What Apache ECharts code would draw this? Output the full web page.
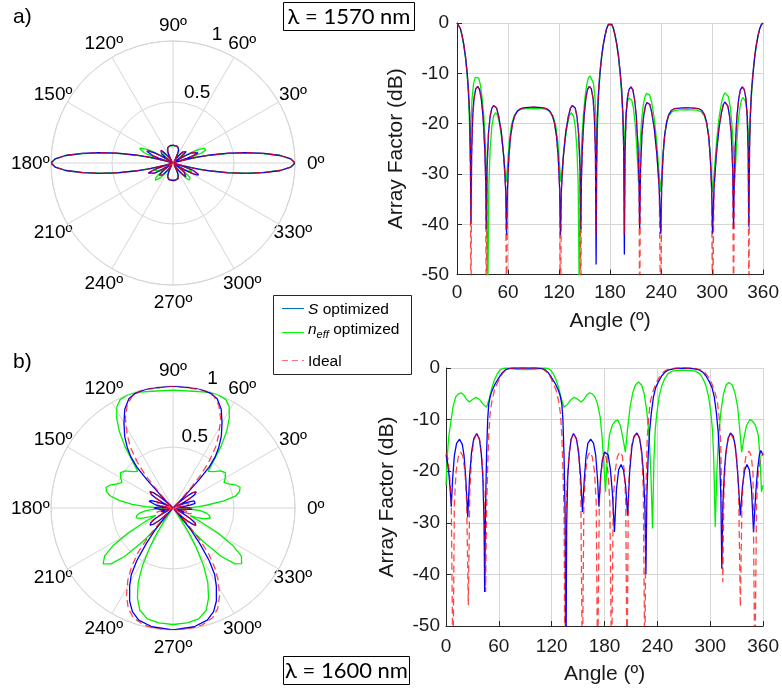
<!DOCTYPE html>
<html><head><meta charset="utf-8">
<script src="https://cdn.jsdelivr.net/npm/echarts@6/dist/echarts.min.js"></script>
<style>html,body{margin:0;padding:0;background:#fff}#c{width:782px;height:689px}</style>
</head><body><div id="c"></div>
<script>
// ---- data: [angle (deg), array factor (dB)] ----
const aBlue = [[0,0],[2,-0.3],[4,-1.1],[6,-2.5],[8,-4.3],[10,-6.7],[12,-10],[13.5,-13.4],[14.8,-18],[15.7,-25],[16.4,-40],
[17.2,-26],[18.5,-18.5],[20,-15],[22,-13.1],[24.3,-12.6],[26.5,-13.2],[28.5,-15],[30.5,-18.3],[32.5,-24.5],[33.7,-31],[34.4,-41],
[35.3,-29],[37,-22],[39,-18.5],[41,-16.9],[43,-16.4],[44.5,-16.4],[46.5,-16.9],[49,-18.5],[52,-21.5],[55,-26.5],[57.2,-33],[58.3,-42.2],
[59.3,-33],[61,-26.5],[63,-22.5],[65.5,-19.8],[68,-18.4],[71,-17.5],[75,-17],[80,-16.8],[90,-16.7],[100,-16.8],[105,-17],[109,-17.5],[112,-18.4],[114.5,-19.8],[117,-22.5],[119,-26.5],[120.7,-33],[121.7,-42.2],
[122.8,-33],[125,-26.5],[128,-21.5],[131,-18.5],[133.5,-16.9],[135.5,-16.4],[137,-16.4],[139,-16.9],[141,-18.5],[143,-22],[144.7,-29],[145.6,-41],
[146.3,-31],[147.5,-24.5],[149.5,-18.3],[151.5,-15],[153.5,-13.2],[155.7,-12.6],[158,-13.1],[160,-15],[161.5,-18.5],[162.8,-26],[163.6,-48],
[164.3,-25],[165.2,-18],[166.5,-13.4],[168,-10],[170,-6.7],[172,-4.3],[174,-2.5],[176,-1.1],[178,-0.3],[180,0],
[182,-0.3],[184,-1.1],[186,-2.5],[188,-4.3],[190,-6.7],[192,-10],[193.7,-13.4],[195,-18],[196,-25],[196.8,-46],
[197.6,-26],[198.8,-18.5],[200.3,-15],[202.3,-13.2],[204.6,-12.7],[206.8,-13.3],[208.8,-15.2],[210.8,-18.5],[212.8,-24.5],[214,-31],[214.8,-40.9],
[215.8,-29],[217.5,-22],[219.5,-18.5],[221.5,-16.5],[223.3,-15.8],[225,-15.7],[226.8,-16.2],[229,-17.8],[232,-21],[235,-26],[237.8,-33],[239.5,-41.9],
[240.6,-33],[242.2,-26.5],[244.2,-22.3],[246.6,-19.6],[249,-18.2],[252,-17.4],[256,-17],[262,-16.9],[270,-16.8],[278,-16.9],[284,-17],[288,-17.4],[291,-18.2],[293.4,-19.6],[295.8,-22.3],[297.8,-26.5],[299.4,-33],[300.5,-41.9],
[302.2,-33],[305,-26],[308,-21],[311,-17.8],[313.2,-16.2],[315,-15.7],[316.7,-15.8],[318.5,-16.5],[320.5,-18.5],[322.5,-22],[324.2,-29],[325.2,-40.9],
[326,-31],[327.2,-24.5],[329.2,-18.5],[331.2,-15.2],[333.2,-13.3],[335.4,-12.7],[337.7,-13.2],[339.7,-15],[341.2,-18.5],[342.4,-26],[343.2,-40.5],
[344,-25],[345,-18],[346.3,-13.4],[348,-10],[350,-6.7],[352,-4.3],[354,-2.5],[356,-1.1],[358,-0.3],[360,0]];

const aGreen = [[0,0],[2,-0.3],[4,-1.1],[6,-2.6],[8,-4.5],[10,-7],[12,-10.5],[13.5,-14.5],[14.7,-20],[15.6,-27.6],
[16.5,-20],[17.7,-15],[19.5,-12],[21.5,-10.8],[23.5,-10.5],[25.5,-10.9],[27.5,-12.3],[29.5,-14.8],[31.5,-18.5],[33.5,-24],[35,-32],[36.2,-55],
[37.5,-32],[39,-25],[41,-20.5],[43,-18.5],[45.4,-17.8],[47.5,-18.3],[50,-20],[53,-23.5],[56,-28.5],[57.9,-31.6],
[59.5,-28],[61.5,-23.5],[64,-20.3],[67,-18.5],[71,-17.5],[76,-17.1],[82,-17],[90,-17],[98,-17],[104,-17.1],[109,-17.5],[113,-18.5],[116,-20.3],[118.5,-23.5],[120.5,-28],[122.1,-31.6],
[124,-28.5],[127,-23.5],[130,-20],[132.5,-18.3],[134.6,-17.8],[137,-18.5],[139,-20.5],[141,-25],[142.5,-32],[143.8,-55],
[145,-32],[146.5,-24],[148.5,-18.5],[150.5,-14.8],[152.5,-12.3],[154.5,-10.9],[156.5,-10.5],[158.5,-10.8],[160.5,-12],[162.3,-15],[163.5,-20],[164.4,-27.6],
[165.3,-20],[166.5,-14.5],[168,-10.5],[170,-7],[172,-4.5],[174,-2.6],[176,-1.1],[178,-0.3],[180,0],
[182,-0.3],[184,-1.1],[186,-2.6],[188,-4.5],[190,-7],[192,-10.5],[193.7,-14.5],[195,-18.5],[196,-22],[196.8,-25.6],
[197.7,-21],[199,-17.5],[200.5,-15.6],[202,-14.9],[203.8,-14.8],[205.5,-15.3],[207.5,-17],[209.5,-20],[211.5,-25],[213.4,-31.6],
[215,-25],[217,-19.5],[219,-16.3],[221,-14.6],[222.8,-14],[224.6,-13.9],[226.5,-14.3],[229,-15.8],[232,-19],[235,-24],[237.5,-29.5],[239.8,-33.6],
[241.5,-28],[243.5,-23.3],[246,-20.3],[249,-18.5],[253,-17.6],[258,-17.3],[270,-17.2],[282,-17.3],[287,-17.6],[291,-18.5],[294,-20.3],[296.5,-23.3],[298.5,-28],[300.2,-33.6],
[302.5,-29.5],[305,-24],[308,-19],[311,-15.8],[313.5,-14.3],[315.4,-13.9],[317.2,-14],[319,-14.6],[321,-16.3],[323,-19.5],[325,-25],[326.6,-31.6],
[328.5,-25],[330.5,-20],[332.5,-17],[334.5,-15.3],[336.2,-14.8],[338,-14.9],[339.5,-15.6],[341,-17.5],[342.3,-21],[343.2,-25.6],
[344,-22],[345,-18.5],[346.3,-14.5],[348,-10.5],[350,-7],[352,-4.5],[354,-2.6],[356,-1.1],[358,-0.3],[360,0]];

const aRed = [[0,0],[2,-0.3],[4,-1.1],[6,-2.5],[8,-4.3],[10,-6.7],[12,-10],[13.5,-13.4],[14.8,-18],[15.7,-25],[16.4,-60],
[17.2,-26],[18.5,-18.5],[20,-15],[22,-13.1],[24.3,-12.6],[26.5,-13.2],[28.5,-15],[30.5,-18.3],[32.5,-24.5],[33.7,-31],[34.4,-60],
[35.3,-29],[37,-22],[39,-18.5],[41,-16.9],[43,-16.4],[44.5,-16.4],[46.5,-16.9],[49,-18.5],[52,-21.5],[55,-26.5],[57.2,-33],[58.3,-60],
[59.3,-33],[61,-26.5],[63,-22.5],[65.5,-19.8],[68,-18.4],[71,-17.5],[75,-17],[80,-16.8],[90,-16.7],[100,-16.8],[105,-17],[109,-17.5],[112,-18.4],[114.5,-19.8],[117,-22.5],[119,-26.5],[120.7,-33],[121.7,-60],
[122.8,-33],[125,-26.5],[128,-21.5],[131,-18.5],[133.5,-16.9],[135.5,-16.4],[137,-16.4],[139,-16.9],[141,-18.5],[143,-22],[144.7,-29],[145.6,-60],
[146.3,-31],[147.5,-24.5],[149.5,-18.3],[151.5,-15],[153.5,-13.2],[155.7,-12.6],[158,-13.1],[160,-15],[161.5,-18.5],[162.8,-26],[163.6,-42],
[164.3,-25],[165.2,-18],[166.5,-13.4],[168,-10],[170,-6.7],[172,-4.3],[174,-2.5],[176,-1.1],[178,-0.3],[180,0],
[182,-0.3],[184,-1.1],[186,-2.5],[188,-4.3],[190,-6.7],[192,-10],[193.7,-13.4],[195,-18],[196,-25],[196.8,-42],
[197.6,-26],[198.8,-18.5],[200.3,-15],[202.3,-13.2],[204.6,-12.7],[206.8,-13.3],[208.8,-15.2],[210.8,-18.5],[212.8,-24.5],[214,-31],[214.8,-60],
[215.8,-29],[217.5,-22],[219.5,-18.5],[221.5,-16.5],[223.3,-15.8],[225,-15.7],[226.8,-16.2],[229,-17.8],[232,-21],[235,-26],[237.8,-33],[239.5,-60],
[240.6,-33],[242.2,-26.5],[244.2,-22.3],[246.6,-19.6],[249,-18.2],[252,-17.4],[256,-17],[262,-16.9],[270,-16.8],[278,-16.9],[284,-17],[288,-17.4],[291,-18.2],[293.4,-19.6],[295.8,-22.3],[297.8,-26.5],[299.4,-33],[300.5,-60],
[302.2,-33],[305,-26],[308,-21],[311,-17.8],[313.2,-16.2],[315,-15.7],[316.7,-15.8],[318.5,-16.5],[320.5,-18.5],[322.5,-22],[324.2,-29],[325.2,-60],
[326,-31],[327.2,-24.5],[329.2,-18.5],[331.2,-15.2],[333.2,-13.3],[335.4,-12.7],[337.7,-13.2],[339.7,-15],[341.2,-18.5],[342.4,-26],[343.2,-60],
[344,-25],[345,-18],[346.3,-13.4],[348,-10],[350,-6.7],[352,-4.3],[354,-2.5],[356,-1.1],[358,-0.3],[360,0]];

const bBlue = [[0,-16.9],[1.5,-18],[3,-20],[4.5,-23],[6,-26.9],[7.5,-21.5],[9.5,-17],[12,-14.6],[15.4,-13.8],[18.5,-14.8],[20.5,-17],[22.5,-21.5],[24.7,-28.9],
[26.8,-21],[29,-16.3],[31.5,-13.7],[34.9,-12.7],[38,-13.8],[40,-16.5],[41.8,-21],[43.2,-30],[43.9,-43.4],
[44.8,-28],[46,-17],[47.3,-10],[48.5,-7],[50.5,-5.3],[53,-4.1],[56,-3.0],[60,-1.9],[64,-0.9],[68,-0.3],[72,-0.08],[78,0],[90,0],[102,0],[108,-0.08],[112,-0.3],[116,-0.9],[120,-1.9],[124,-3.0],[127,-4.1],[129.5,-5.3],[131.5,-7],[132.7,-10],[134,-17],[135.2,-28],[136.1,-60],
[137,-30],[138.2,-21],[140,-16.5],[142,-13.8],[144.7,-12.7],[148,-13.7],[150.5,-16.3],[152.8,-21],[154.9,-27.9],
[157,-21.5],[159,-17],[161,-14.6],[164.2,-13.8],[167.5,-14.6],[170,-17],[172,-21.5],[173.6,-26.9],
[175.5,-21],[177.5,-17.8],[180,-16.3],[181.9,-16],[184,-16.8],[186.5,-19.5],[189,-24.5],[191.2,-31.8],
[193.5,-23.5],[196,-19.7],[198.7,-18.7],[201.5,-19.8],[204,-23],[206.2,-28.6],
[208.5,-20],[211,-15.3],[213.5,-13.2],[216.7,-12.6],[219.5,-13.5],[222,-16],[224,-20],[225.8,-27],[226.9,-39.9],
[228,-25],[229.5,-17],[231,-12.5],[233,-8.8],[235.5,-5.6],[238,-3.8],[241,-2.7],[245,-1.5],[248.6,-0.8],[253,-0.35],[259.9,-0.1],[270,0],[280.1,-0.1],[287,-0.35],[291.4,-0.8],[295,-1.5],[299,-2.7],[302,-3.8],[304.5,-5.6],[307,-8.8],[309,-12.5],[310.5,-17],[312,-25],[313.1,-38.9],
[314.2,-27],[316,-20],[318,-16],[320.5,-13.5],[322.9,-12.6],[326,-13.2],[328.5,-15.3],[331,-20],[334.1,-28.6],
[336.5,-23],[339,-19.8],[341.6,-18.7],[344.3,-19.7],[346.8,-23.5],[349.1,-31.8],
[351.5,-24.5],[353.8,-19.5],[355.8,-16.8],[357.4,-16],[360,-16.9]];

const bGreen = [[0,-22.7],[1.5,-17],[3,-13.5],[5,-11],[8,-7.5],[11,-5.6],[14,-5],[17.2,-4.8],[20.5,-5.3],[23.5,-6.1],[26.6,-6.6],[30,-6.1],[34.1,-5.7],[38,-6.1],[42,-7],[46.1,-7.6],
[49,-6],[52,-3.9],[55,-2.3],[58,-1.2],[61,-0.45],[64,-0.1],[68.6,0],[74,-0.1],[80,-0.25],[90,-0.3],[100,-0.25],[106,-0.1],[111.4,0],[116,-0.1],[119,-0.45],[122,-1.2],[125,-2.3],[128,-3.9],[131,-6],[133.9,-7.6],
[138,-7],[142,-6.1],[145.9,-5.7],[150,-6.1],[153.4,-6.6],[156.5,-6.1],[159.5,-5.3],[162.8,-4.8],[166,-5],[169,-5.6],[172,-7],[175,-9.5],[177,-13],[179,-18],[181.1,-24],
[183,-17.5],[185.5,-13],[189,-11],[192,-10.3],[195,-10.1],[198,-11.2],[201,-13.8],[203.6,-16.3],
[206,-12],[209,-7.5],[212,-4.8],[215,-3.3],[218.6,-2.7],[222,-3.3],[225,-5],[228,-8.5],[230.5,-13],[232.5,-20],[234.4,-31.1],
[236,-18],[237.5,-12],[239.3,-8.8],[242,-5.5],[245,-3.4],[248.5,-2.0],[252,-1.1],[257,-0.6],[263,-0.45],[270,-0.4],[277,-0.45],[283,-0.6],[288,-1.1],[291.5,-2.0],[295,-3.4],[298,-5.5],[300.7,-8.8],[302.5,-12],[304,-18],[305.6,-30.8],
[307.5,-20],[309.5,-13],[312,-8.5],[315,-5],[318,-3.3],[321,-2.8],[325,-3.3],[328,-4.8],[331,-7.5],[333.5,-12],[335.6,-16.3],
[338,-13.8],[341,-11.2],[345,-10],[348,-10.3],[351,-11],[354.5,-13],[356.5,-17.5],[358.1,-24],[360,-22.7]];

const bRed = [[0,-16.5],[2,-17.5],[4,-20.5],[6,-26],[7.9,-60],[9.5,-26],[11.5,-20],[14,-17.2],[16.5,-16.3],[19,-17],[21.5,-20],[23.5,-26],[25.3,-46],
[27,-24],[29,-17.5],[31.5,-14],[34.9,-12.7],[38,-13.8],[40.5,-17],[42.5,-22],[44,-30],[45,-43.4],
[46,-28],[47.2,-20],[48.5,-13],[50,-9],[52,-6.5],[55,-4.3],[58,-3],[62,-1.6],[66,-0.7],[70,-0.2],[75,0],[90,0],[105,0],[110,-0.2],[114,-0.7],[118,-1.6],[122,-3],[125,-4.3],[128,-6.5],[130,-9],[131.5,-13],[132.8,-20],[134,-28],[135,-60],
[136,-30],[137.5,-22],[139.5,-17],[142,-13.8],[144.8,-12.7],[148.5,-14],[151,-17.5],[153,-24],[154.8,-60],
[156.5,-26],[158.5,-20],[161,-17],[163.5,-16.3],[166,-17.2],[168.5,-20],[170.5,-26],[172.1,-60],
[174,-26],[176,-20.5],[178,-17.5],[180,-16.5],[182,-17.5],[184,-20.5],[186,-26],[187.9,-60],
[189.8,-26],[192,-20],[194.5,-17.2],[197.2,-16.3],[200,-17],[202.5,-20],[204,-26],[205.5,-60],
[207,-24],[209,-17.5],[211.5,-14],[216.7,-12.6],[220,-13.8],[222.3,-17],[224,-24],[225.7,-60],
[227,-24],[228.3,-14],[230,-9.5],[232,-6.5],[235,-4.5],[238,-3.1],[242,-1.8],[246,-0.9],[250,-0.4],[256,-0.1],[262,0],[270,0],[278,0],[284,-0.1],[290,-0.4],[294,-0.9],[298,-1.8],[302,-3.1],[305,-4.5],[308,-6.5],[310,-9.5],[311.7,-14],[313,-24],[314.2,-41.5],
[315.5,-24],[317.5,-17],[320,-13.8],[322.9,-12.6],[327,-14],[330,-17.5],[332.2,-24],[334.1,-46.3],
[336,-26],[338,-20],[340.5,-17],[344,-16.1],[346.5,-17],[348.5,-20.5],[350.6,-60],
[352.5,-26],[354.5,-20.5],[357,-17.5],[360,-16.5]];

const angleTicks = [0,30,60,90,120,150,180,210,240,270,300,330];
const radiusTicks = [0.5, 1];
const xTicksDeg = [0,60,120,180,240,300,360];
const yTicksDb = [-50,-40,-30,-20,-10,0];
const seriesNames = ['S optimized','n_eff optimized','Ideal'];

// ---- rendering ----
const FONT = 'Liberation Sans, Arial, sans-serif';
const GRIDC = '#d6d6d6';
const C_BLUE = '#0000ff', C_GREEN = '#00f000', C_RED = 'rgba(255,0,0,0.72)';
const toLin = arr => arr.map(p => [Math.pow(10, p[1] / 20), p[0]]);

function polarAxes(i) {
  return {
    angle: {
      polarIndex: i, type: 'value', min: 0, max: 360, interval: 30, startAngle: 0, clockwise: false,
      axisLine: { lineStyle: { color: GRIDC, width: 1 } },
      axisTick: { show: false },
      splitLine: { show: true, lineStyle: { color: GRIDC, width: 1 } },
      axisLabel: { show: false }
    },
    radius: {
      polarIndex: i, type: 'value', min: 0, max: 1, interval: 0.5,
      axisLine: { show: false }, axisTick: { show: false }, axisLabel: { show: false },
      splitLine: { show: true, lineStyle: { color: GRIDC, width: 1 } }
    }
  };
}
const pa = polarAxes(0), pb = polarAxes(1);

function cartAxes(i, labelMarginX, labelMarginY, nameGapX, nameGapY) {
  const axisLine = { show: true, onZero: false, lineStyle: { color: '#262626', width: 1 } };
  const tick = { show: true, inside: true, length: 5, lineStyle: { color: '#262626' } };
  return {
    x: { gridIndex: i, type: 'value', min: 0, max: 360, interval: 60, axisLine, axisTick: tick,
      splitLine: { show: true, lineStyle: { color: GRIDC } },
      axisLabel: { fontSize: 19, color: '#1a1a1a', margin: labelMarginX, fontFamily: FONT },
      name: 'Angle (º)', nameLocation: 'middle', nameGap: nameGapX,
      nameTextStyle: { fontSize: 21, color: '#1a1a1a', fontFamily: FONT } },
    y: { gridIndex: i, type: 'value', min: -50, max: 0, interval: 10, axisLine, axisTick: tick,
      splitLine: { show: true, lineStyle: { color: GRIDC } },
      axisLabel: { fontSize: 19, color: '#1a1a1a', margin: labelMarginY, fontFamily: FONT },
      name: 'Array Factor (dB)', nameLocation: 'middle', nameGap: nameGapY, nameRotate: 90,
      nameTextStyle: { fontSize: 21, color: '#1a1a1a', fontFamily: FONT } }
  };
}
const ca = cartAxes(0, 9, 8, 36, 50), cb = cartAxes(1, 11, 6, 38, 48);

function lineS(data, color, dashed, extra) {
  return Object.assign({
    type: 'line', data: data, showSymbol: false, symbol: 'none', silent: true,
    lineStyle: { color: color, width: 1.3, type: dashed ? [7, 4] : 'solid' }
  }, extra);
}
const series = [
  lineS(toLin(aGreen), C_GREEN, false, { coordinateSystem: 'polar', polarIndex: 0 }),
  lineS(toLin(aBlue), C_BLUE, false, { coordinateSystem: 'polar', polarIndex: 0 }),
  lineS(toLin(aRed), C_RED, true, { coordinateSystem: 'polar', polarIndex: 0 }),
  lineS(toLin(bGreen), C_GREEN, false, { coordinateSystem: 'polar', polarIndex: 1 }),
  lineS(toLin(bBlue), C_BLUE, false, { coordinateSystem: 'polar', polarIndex: 1 }),
  lineS(toLin(bRed), C_RED, true, { coordinateSystem: 'polar', polarIndex: 1 }),
  lineS(aGreen, C_GREEN, false, { xAxisIndex: 0, yAxisIndex: 0 }),
  lineS(aBlue, C_BLUE, false, { xAxisIndex: 0, yAxisIndex: 0 }),
  lineS(aRed, C_RED, true, { xAxisIndex: 0, yAxisIndex: 0 }),
  lineS(bGreen, C_GREEN, false, { xAxisIndex: 1, yAxisIndex: 1 }),
  lineS(bBlue, C_BLUE, false, { xAxisIndex: 1, yAxisIndex: 1 }),
  lineS(bRed, C_RED, true, { xAxisIndex: 1, yAxisIndex: 1 })
];

const chart = echarts.init(document.getElementById('c'), null, { renderer: 'canvas' });
const baseGraphic = [
  { type: 'text', left: 13, top: 7, style: { text: 'a)', font: '21px ' + FONT, fill: '#000' } },
  { type: 'text', left: 13, top: 352, style: { text: 'b)', font: '21px ' + FONT, fill: '#000' } },
  { type: 'rect', shape: { x: 283.5, y: 2.5, width: 131, height: 28 }, style: { fill: '#fff', stroke: '#000', lineWidth: 1 } },
  { type: 'text', x: 349, y: 17, style: { text: 'λ = 1570 nm', font: '22px Lato', fill: '#000', textAlign: 'center', textVerticalAlign: 'middle' } },
  { type: 'rect', shape: { x: 283.5, y: 656.5, width: 126, height: 28 }, style: { fill: '#fff', stroke: '#000', lineWidth: 1 } },
  { type: 'text', x: 346.5, y: 671, style: { text: 'λ = 1600 nm', font: '22px Lato', fill: '#000', textAlign: 'center', textVerticalAlign: 'middle' } },
  // legend
  { type: 'rect', shape: { x: 273.5, y: 295.5, width: 138, height: 79 }, style: { fill: '#fff', stroke: '#262626', lineWidth: 1 } },
  { type: 'line', shape: { x1: 282, y1: 308.5, x2: 304, y2: 308.5 }, style: { stroke: '#0072bd', lineWidth: 1 } },
  { type: 'line', shape: { x1: 282, y1: 332.5, x2: 304, y2: 332.5 }, style: { stroke: '#00ff00', lineWidth: 1 } },
  { type: 'line', shape: { x1: 282, y1: 360.5, x2: 304, y2: 360.5 }, style: { stroke: '#ff7070', lineWidth: 1, lineDash: [6, 4] } },
  { type: 'text', x: 308, y: 310, style: { rich: { i: { font: 'italic 15.5px ' + FONT }, n: { font: '15.5px ' + FONT } },
      text: '{i|S}{n| optimized}', fill: '#000', textVerticalAlign: 'middle' } },
  { type: 'text', x: 308, y: 330, style: { rich: { i: { font: 'italic 15.5px ' + FONT }, s: { font: 'italic 11px ' + FONT, padding: [10, 0, 0, 0] }, n: { font: '15.5px ' + FONT } },
      text: '{i|n}{s|eff}{n| optimized}', fill: '#000', textVerticalAlign: 'middle' } },
  { type: 'text', x: 308, y: 362, style: { text: 'Ideal', font: '15.5px ' + FONT, fill: '#000', textVerticalAlign: 'middle' } }
];

chart.setOption({
  animation: false,
  backgroundColor: '#fff',
  polar: [{ center: [173, 163], radius: 122 }, { center: [173, 508], radius: 122 }],
  angleAxis: [pa.angle, pb.angle],
  radiusAxis: [pa.radius, pb.radius],
  grid: [{ left: 457, top: 23, width: 306.6, height: 251.6 }, { left: 446, top: 368, width: 320, height: 258 }],
  xAxis: [ca.x, cb.x],
  yAxis: [ca.y, cb.y],
  series: series,
  graphic: baseGraphic
});

// polar tick labels placed through the polar coordinate systems
const extra = [];
[[0, 71], [3, 73]].forEach(([si, ang]) => {
  radiusTicks.forEach(r => {
    const p = chart.convertToPixel({ seriesIndex: si }, [r + 0.11, ang]);
    if (p) extra.push({ type: 'text', x: p[0], y: p[1],
      style: { text: String(r), font: '19px ' + FONT, fill: '#000', textAlign: 'center', textVerticalAlign: 'middle' } });
  });
  angleTicks.forEach(a => {
    const rr = (a % 180 === 0) ? 1.17 : 1.135;
    const p = chart.convertToPixel({ seriesIndex: si }, [rr, a]);
    if (p) extra.push({ type: 'text', x: p[0], y: p[1] + 1,
      style: { text: a + 'º', font: '19px ' + FONT, fill: '#000', textAlign: 'center', textVerticalAlign: 'middle' } });
  });
});
chart.setOption({ graphic: baseGraphic.concat(extra) });
</script></body></html>
